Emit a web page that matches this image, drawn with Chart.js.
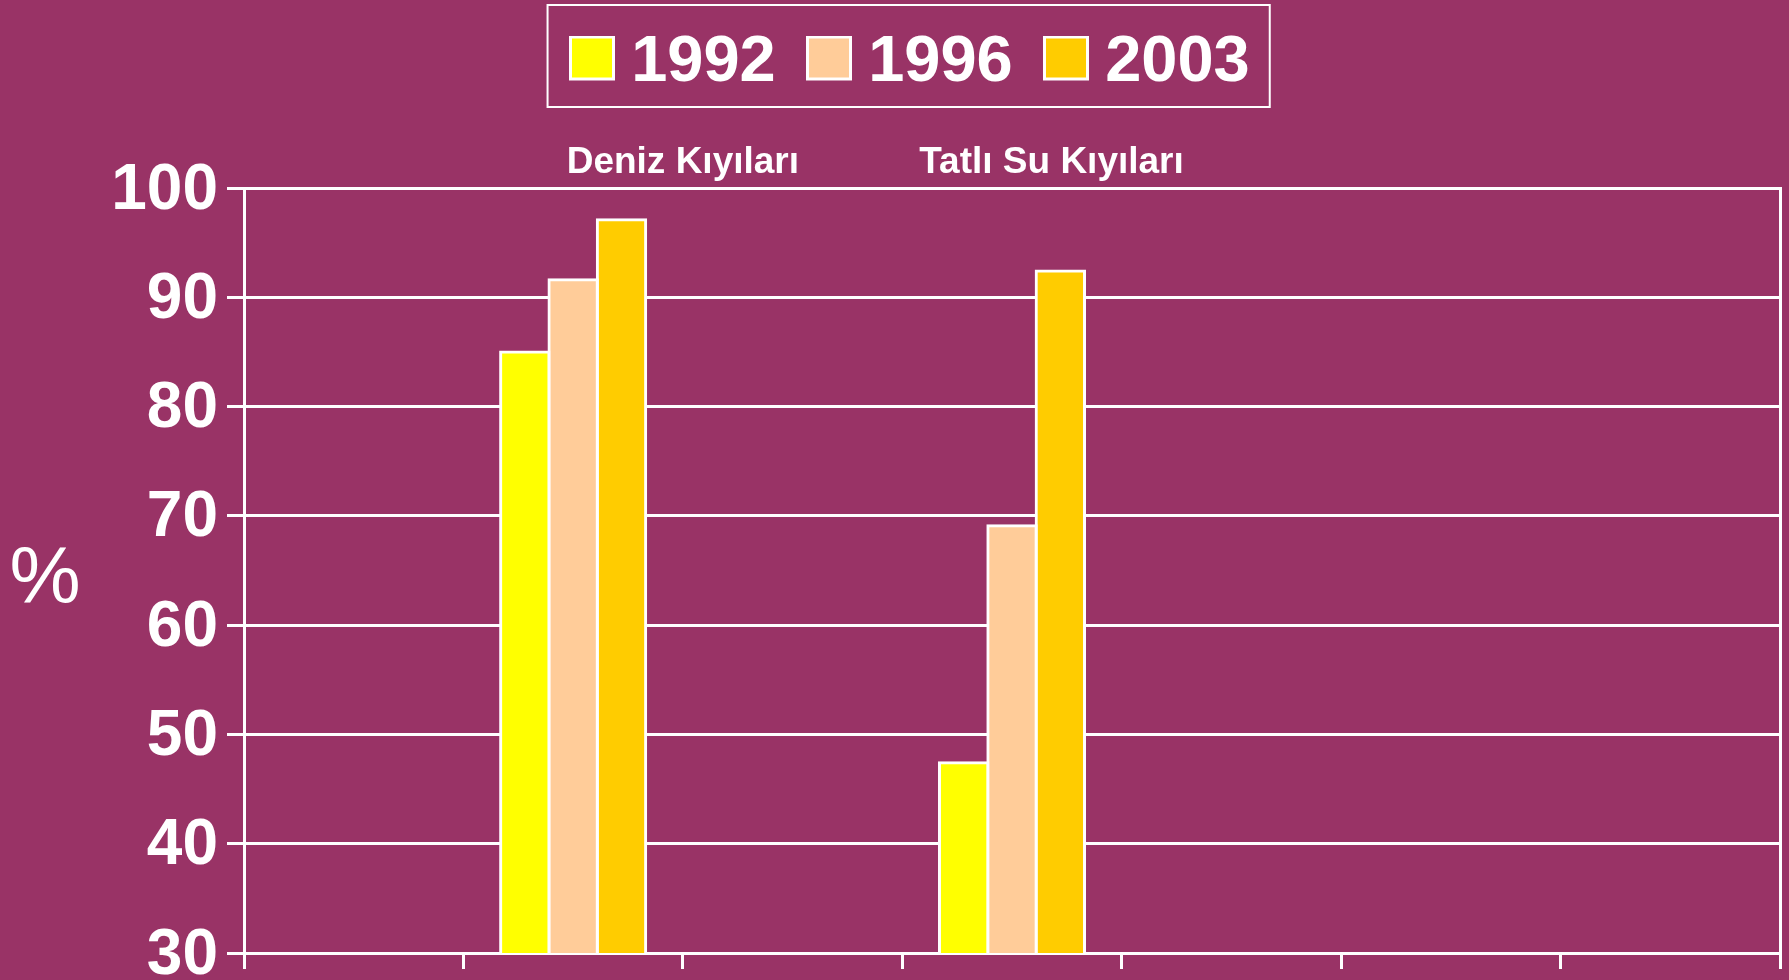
<!DOCTYPE html>
<html><head><meta charset="utf-8">
<script src="https://cdn.jsdelivr.net/npm/chart.js@4.4.1/dist/chart.umd.min.js"></script>
<style>html,body{margin:0;padding:0;background:#993366;overflow:hidden}canvas{display:block}</style>
</head><body>
<canvas id="c" width="1789" height="980"></canvas>
<script>
// ---- data ----
const categories = ['', 'Deniz Kıyıları', '', 'Tatlı Su Kıyıları', '', '', ''];
const seriesLabels = ['1992', '1996', '2003'];
const values1992 = [null, 85.0, null, 47.4, null, null, null];
const values1996 = [null, 91.6, null, 69.1, null, null, null];
const values2003 = [null, 97.1, null, 92.4, null, null, null];
const yTickMin = 30, yTickMax = 100, yTickStep = 10;
const yUnit = '%';

// ---- style ----
const BG = '#993366';
const WHITE = '#FFFFFF';
const seriesColors = ['#FFFF00', '#FFCC99', '#FFCC00'];
const FONT = "'Liberation Sans', Arial, Helvetica, sans-serif";
const groupLabelShift = [0, 0.5, 0, 0.18, 0, 0, 0]; // in category units
const groupLabelY = 163;
const SW_W = 62, SW_H = 55; // swatch canvas size (swatch at top-right)

function makeSwatch(color) {
  const cv = document.createElement('canvas');
  cv.width = SW_W; cv.height = SW_H;
  const g = cv.getContext('2d');
  g.fillStyle = WHITE; g.fillRect(SW_W - 46, 0, 46, 45);
  g.fillStyle = color; g.fillRect(SW_W - 43, 3, 40, 39);
  return cv;
}
const swatches = seriesColors.map(makeSwatch);

const decorPlugin = {
  id: 'decor',
  afterDraw(chart) {
    const ctx = chart.ctx;
    const xs = chart.scales.x;
    const area = chart.chartArea;
    ctx.save();
    // group labels above the plot
    ctx.fillStyle = WHITE;
    ctx.font = 'bold 37px ' + FONT;
    ctx.textAlign = 'center';
    ctx.textBaseline = 'middle';
    categories.forEach((c, i) => {
      if (!c) return;
      ctx.fillText(c, xs.getPixelForValue(i + groupLabelShift[i]), groupLabelY);
    });
    // unit label
    ctx.font = '80px ' + FONT;
    ctx.textBaseline = 'alphabetic';
    ctx.fillText(yUnit, area.left - 199, (area.top + area.bottom) / 2 + 32);
    // legend frame
    const hb = chart.legend.legendHitBoxes;
    if (hb && hb.length) {
      const last = hb[hb.length - 1];
      const l = hb[0].left - 21.7;
      const r = last.left + last.width + 20;
      const t = hb[0].top - 25.5;
      const b = hb[0].top + hb[0].height + 11.5;
      ctx.strokeStyle = WHITE;
      ctx.lineWidth = 2;
      ctx.strokeRect(l, t, r - l, b - t);
    }
    ctx.restore();
  }
};

const mkDs = (i, data) => ({
  label: seriesLabels[i],
  data: data,
  backgroundColor: seriesColors[i],
  borderColor: WHITE,
  borderWidth: 3,
  inflateAmount: 1.5,
  barPercentage: 1.0,
  categoryPercentage: 0.661
});

new Chart(document.getElementById('c'), {
  type: 'bar',
  data: {
    labels: categories,
    datasets: [mkDs(0, values1992), mkDs(1, values1996), mkDs(2, values2003)]
  },
  options: {
    responsive: false,
    animation: false,
    devicePixelRatio: 1,
    layout: { padding: { left: 39, right: 9, top: 0, bottom: 11 } },
    plugins: {
      tooltip: { enabled: false },
      legend: {
        position: 'top',
        labels: {
          color: WHITE,
          font: { family: FONT, size: 65, weight: 'bold' },
          usePointStyle: true,
          pointStyleWidth: 29.4,
          boxWidth: 29.4,
          padding: 30.5,
          generateLabels(chart) {
            const items = Chart.defaults.plugins.legend.labels.generateLabels(chart);
            items.forEach((it, i) => { it.pointStyle = swatches[i]; });
            return items;
          }
        }
      }
    },
    scales: {
      x: {
        type: 'category',
        position: 'bottom',
        offset: true,
        grid: { display: true, offset: true, drawOnChartArea: false, drawTicks: true, tickLength: 16, color: WHITE, lineWidth: 3 },
        border: { display: true, color: WHITE, width: 3 },
        ticks: { display: false }
      },
      xTop: {
        type: 'category',
        position: 'top',
        display: true,
        grid: { display: false, drawTicks: false },
        border: { display: false },
        ticks: { display: false },
        afterFit(scale) { scale.height = 82.5; }
      },
      y: {
        type: 'linear',
        position: 'left',
        min: yTickMin,
        max: yTickMax,
        ticks: {
          stepSize: yTickStep,
          color: WHITE,
          padding: 9,
          labelOffset: 3,
          font: { family: FONT, size: 64, weight: 'bold', lineHeight: 0.5 }
        },
        grid: { display: true, color: WHITE, lineWidth: 3, drawTicks: true, tickLength: 17 },
        border: { display: true, color: WHITE, width: 3 },
        afterFit(scale) { scale.width = 205; }
      },
      yRight: {
        type: 'linear',
        position: 'right',
        display: true,
        min: 0, max: 1,
        grid: { display: false, drawTicks: false },
        ticks: { display: false },
        border: { display: true, color: WHITE, width: 3 }
      }
    }
  },
  plugins: [decorPlugin]
});
</script>
</body></html>
